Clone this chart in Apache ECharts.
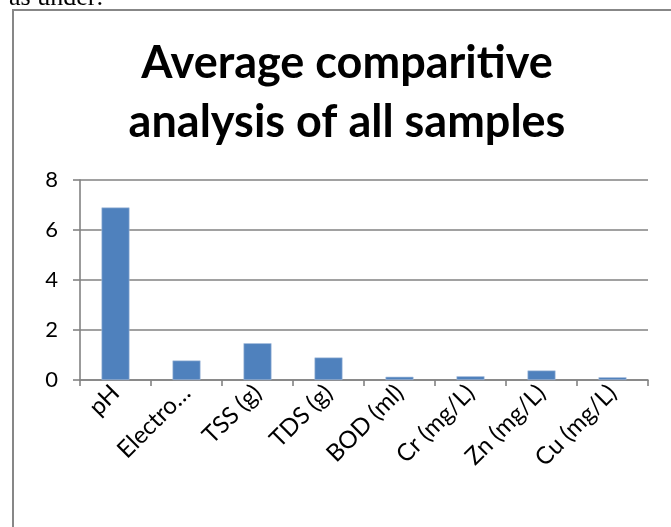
<!DOCTYPE html>
<html>
<head>
<meta charset="utf-8">
<style>
  html, body { margin: 0; padding: 0; background: #fff; }
  #chart { width: 671px; height: 527px; }
</style>
<script src="https://cdn.jsdelivr.net/npm/echarts@6/dist/echarts.min.js"></script>
</head>
<body>
<div id="chart"></div>
<script>
// Parameters measured across all samples (averages)
const categories = ['pH', 'Electro…', 'TSS (g)', 'TDS (g)', 'BOD (ml)', 'Cr (mg/L)', 'Zn (mg/L)', 'Cu (mg/L)'];
const averages = [6.9, 0.78, 1.47, 0.9, 0.13, 0.15, 0.38, 0.11];
const yTicks = [0, 2, 4, 6, 8];

const chart = echarts.init(document.getElementById('chart'), null, { renderer: 'canvas' });

const labelFont = 'Lato, "Open Sans", sans-serif';

chart.setOption({
  backgroundColor: '#ffffff',
  animation: false,
  title: {
    text: 'Average comparitive\nanalysis of all samples',
    left: 342,
    top: 29,
    textAlign: 'center',
    textStyle: {
      fontFamily: labelFont,
      fontWeight: 'bold',
      fontSize: 45,
      lineHeight: 59,
      color: '#000'
    }
  },
  graphic: [
    {
      type: 'rect',
      shape: { x: 13, y: 10, width: 720, height: 600 },
      style: { fill: 'none', stroke: '#878787', lineWidth: 2 },
      silent: true
    },
    {
      type: 'text',
      x: 9,
      y: -2,
      style: {
        text: 'as under:',
        font: '26px "Liberation Serif", "Times New Roman", serif',
        fill: '#000',
        verticalAlign: 'middle'
      },
      silent: true
    }
  ],
  grid: {
    left: 80,
    right: 23,
    top: 180,
    bottom: 147,
    containLabel: false
  },
  xAxis: {
    type: 'category',
    data: categories,
    boundaryGap: true,
    axisLine: { show: true, lineStyle: { color: '#828282', width: 1.6 } },
    axisTick: { show: true, length: 6, alignWithLabel: false, lineStyle: { color: '#828282', width: 1.6 } },
    axisLabel: {
      rotate: 45,
      interval: 0,
      margin: 9,
      fontFamily: labelFont,
      fontSize: 24,
      color: '#000'
    }
  },
  yAxis: {
    type: 'value',
    min: yTicks[0],
    max: yTicks[yTicks.length - 1],
    interval: 2,
    axisLine: { show: true, lineStyle: { color: '#828282', width: 1.6 } },
    axisTick: { show: true, length: 7, lineStyle: { color: '#828282', width: 1.6 } },
    splitLine: { show: true, lineStyle: { color: '#828282', width: 1.6 } },
    axisLabel: {
      margin: 22,
      fontFamily: labelFont,
      fontSize: 22,
      color: '#000',
      formatter: v => (yTicks.includes(v) ? String(v) : '')
    }
  },
  series: [
    {
      type: 'bar',
      data: averages,
      barWidth: 28,
      itemStyle: {
        color: '#4f81bd',
        borderColor: '#a9c0de',
        borderWidth: 0.6
      }
    }
  ]
});
</script>
</body>
</html>
